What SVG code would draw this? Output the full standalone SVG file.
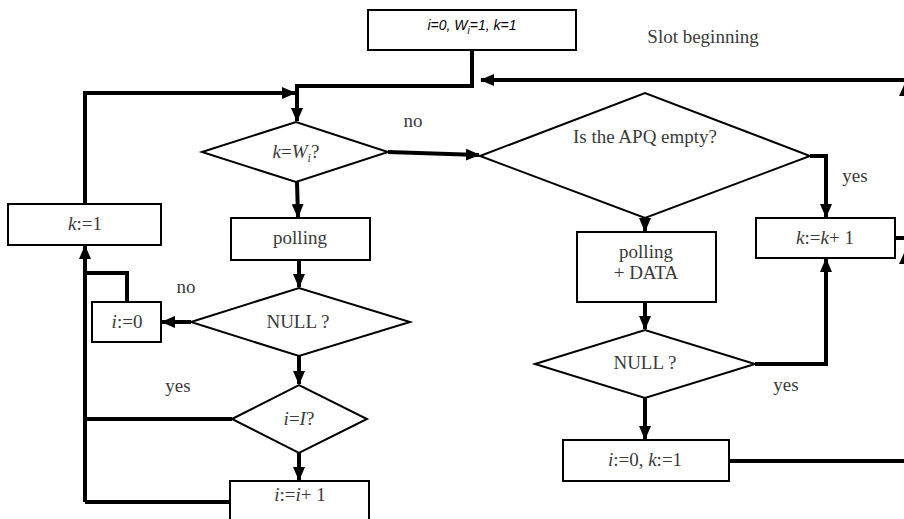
<svg xmlns="http://www.w3.org/2000/svg" width="904" height="519" viewBox="0 0 904 519">
<style>
.shape{fill:#fff;stroke:#000;stroke-width:2}
.conn{fill:none;stroke:#000;stroke-width:4}
.t{font-family:"Liberation Serif","DejaVu Serif",serif;font-size:19px;fill:#3a3a3a;text-anchor:middle}
.it{font-style:italic}
.sans{font-family:"Liberation Sans",Arial,sans-serif;font-size:14px;fill:#000;font-style:italic;text-anchor:middle}
</style>
<defs>
<marker id="ah" markerUnits="userSpaceOnUse" markerWidth="14" markerHeight="12" refX="13" refY="6" orient="auto">
<path d="M0,0 L14,6 L0,12 z" fill="#000"/>
</marker>
</defs>

<g id="connectors">
<path class="conn" d="M472,50 V86 H297 V121" marker-end="url(#ah)"/>
<path class="conn" d="M904,80 H481" marker-end="url(#ah)"/>
<path class="conn" d="M85,204 V93 H295" marker-end="url(#ah)"/>
<path class="conn" d="M297,182 L298,217" marker-end="url(#ah)"/>
<path class="conn" d="M388,152 L479,155" marker-end="url(#ah)"/>
<path class="conn" d="M299,260 V287" marker-end="url(#ah)"/>
<path class="conn" d="M191,322 H162" marker-end="url(#ah)"/>
<path class="conn" d="M127,301 V273 H85"/>
<path class="conn" d="M85,502 V246" marker-end="url(#ah)"/>
<path class="conn" d="M232,419 H85"/>
<path class="conn" d="M230,502 H85"/>
<path class="conn" d="M299,356 V384" marker-end="url(#ah)"/>
<path class="conn" d="M299,453 V480" marker-end="url(#ah)"/>
<path class="conn" d="M810,156 H826 V217" marker-end="url(#ah)"/>
<path class="conn" d="M645,218 V231" marker-end="url(#ah)"/>
<path class="conn" d="M645,302 V329" marker-end="url(#ah)"/>
<path class="conn" d="M755,364 H826 V259" marker-end="url(#ah)"/>
<path class="conn" d="M645,398 V439" marker-end="url(#ah)"/>
<path class="conn" d="M729,461 H904"/>
<path class="conn" d="M895,238 H904"/>
<polygon points="904,85 899,96 904,96" fill="#000"/>
<polygon points="904,253 899,264 904,264" fill="#000"/>
</g>

<g id="start">
<rect class="shape" x="368" y="10" width="208" height="40"/>
<text class="sans" x="472" y="30">i<tspan font-style="italic">=0, W</tspan><tspan font-size="10" dy="4">i</tspan><tspan dy="-4">=1, k=1</tspan></text>
</g>
<text class="t" x="703" y="43">Slot beginning</text>

<g id="d-kw">
<polygon class="shape" points="202,152 296,122 388,152 296,182"/>
<text class="t" x="296" y="158"><tspan class="it">k</tspan>=<tspan class="it">W</tspan><tspan class="it" font-size="12" dy="4">i</tspan><tspan dy="-4">?</tspan></text>
</g>
<text class="t" x="413" y="127">no</text>

<g id="d-apq">
<polygon class="shape" points="480,156 645,93 810,156 645,218"/>
<text class="t" x="645" y="143">Is the APQ empty?</text>
</g>
<text class="t" x="855" y="182">yes</text>

<g id="b-kinc">
<rect class="shape" x="756" y="218" width="139" height="40"/>
<text class="t" x="825" y="244"><tspan class="it">k</tspan>:=<tspan class="it">k</tspan>+ 1</text>
</g>

<g id="b-pdata">
<rect class="shape" x="577" y="232" width="139" height="70"/>
<text class="t" x="646" y="258">polling</text>
<text class="t" x="646" y="279">+  DATA</text>
</g>

<g id="d-null2">
<polygon class="shape" points="535,364 645,330 755,364 645,398"/>
<text class="t" x="645" y="369">NULL ?</text>
</g>
<text class="t" x="786" y="391">yes</text>

<g id="b-reset">
<rect class="shape" x="563" y="440" width="166" height="41"/>
<text class="t" x="645" y="466"><tspan class="it">i</tspan>:=0, <tspan class="it">k</tspan>:=1</text>
</g>

<g id="b-k1">
<rect class="shape" x="8" y="204" width="153" height="41"/>
<text class="t" x="85" y="230"><tspan class="it">k</tspan>:=1</text>
</g>

<g id="b-polling">
<rect class="shape" x="231" y="218" width="139" height="42"/>
<text class="t" x="300" y="244">polling</text>
</g>

<g id="d-null1">
<polygon class="shape" points="191,322 299,288 410,322 299,356"/>
<text class="t" x="298" y="328">NULL ?</text>
</g>
<text class="t" x="186" y="293">no</text>

<g id="b-i0">
<rect class="shape" x="92" y="302" width="69" height="40"/>
<text class="t" x="127" y="328"><tspan class="it">i</tspan>:=0</text>
</g>

<g id="d-iI">
<polygon class="shape" points="232,419 299,385 367,419 299,453"/>
<text class="t" x="299" y="425"><tspan class="it">i</tspan>=<tspan class="it">I</tspan>?</text>
</g>
<text class="t" x="178" y="392">yes</text>

<g id="b-iinc">
<rect class="shape" x="230" y="481" width="139" height="44"/>
<text class="t" x="300" y="501"><tspan class="it">i</tspan>:=<tspan class="it">i</tspan>+ 1</text>
</g>
</svg>
